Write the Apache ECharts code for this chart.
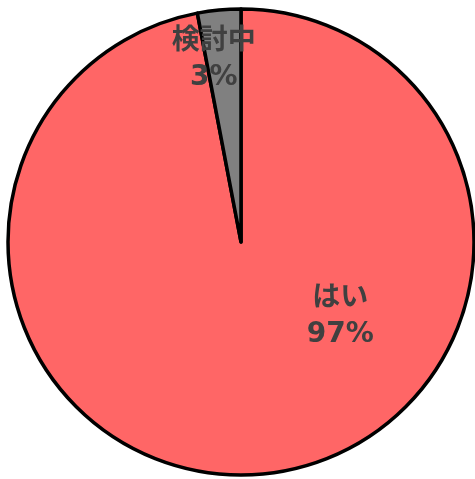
<!DOCTYPE html>
<html>
<head>
<meta charset="utf-8">
<script src="https://cdn.jsdelivr.net/npm/echarts@6/dist/echarts.min.js"></script>
<style>
  html, body { margin: 0; padding: 0; background: #fff; }
  #chart { width: 475px; height: 479px; }
</style>
</head>
<body>
<div id="chart"></div>
<script>
// 回答の内訳
const categories = ['はい', '検討中']
const values = [97, 3]
const colors = ['#FF6666', '#808080']

// label nudges from the default inside spot (px)
const labelShift = [[88, -44], [-16, -63]]

const chart = echarts.init(document.getElementById('chart'))

chart.setOption({
  animation: false,
  backgroundColor: '#fff',
  series: [{
    type: 'pie',
    center: [241, 242],
    radius: [0, 233],
    startAngle: 90,
    clockwise: true,
    data: categories.map((name, i) => ({
      name: name,
      value: values[i],
      itemStyle: { color: colors[i] }
    })),
    itemStyle: {
      borderColor: '#000',
      borderWidth: 3.5
    },
    label: {
      show: true,
      position: 'inside',
      formatter: '{b}\n{c}%',
      color: '#404040',
      fontSize: 28,
      fontWeight: 'bold',
      lineHeight: 36,
      fontFamily: '"DejaVu Sans", "Noto Sans CJK JP", sans-serif'
    },
    labelLayout: (params) => ({
      dx: labelShift[params.dataIndex][0],
      dy: labelShift[params.dataIndex][1]
    }),
    emphasis: { disabled: true }
  }]
})
</script>
</body>
</html>
